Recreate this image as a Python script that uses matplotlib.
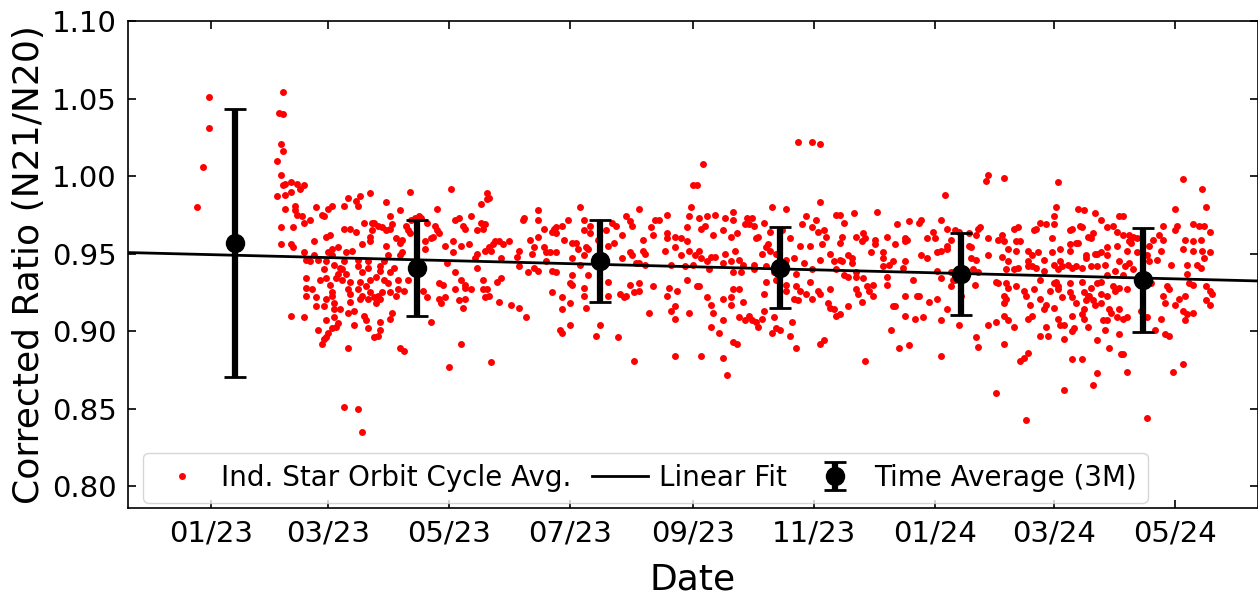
import numpy as np
import matplotlib
matplotlib.use('Agg')
import matplotlib.pyplot as plt
import matplotlib.dates as mdates

# day offsets are counted from 2023-01-01
start = np.datetime64('2023-01-01')

days_0 = [-7, -4, -1, -1]
vals_0 = [0.980, 1.006, 1.031, 1.051]

days_1 = [36, 34, 36, 35, 36, 33, 35, 36, 37, 33,
          37, 37, 35, 35, 40, 40, 43, 47, 45, 40,
          42, 42, 43, 46, 47, 50, 41, 40, 41, 47,
          48, 50, 48, 48, 48, 51, 53, 53, 47, 54,
          57, 56, 58, 59, 61, 63, 64, 62, 58, 57,
          58, 61, 62, 62, 65, 69, 72, 70, 69, 70,
          66, 64, 60, 58, 57, 58, 59, 61, 64, 61,
          62, 65, 67, 68, 71, 66, 68, 74, 74, 76,
          75, 74, 76, 79, 82, 84, 80, 83, 78, 80,
          79, 79, 76, 80, 80, 81, 84, 82, 86, 88,
          90, 91, 88, 89, 87, 85, 85, 83, 87, 89,
          90, 92, 95, 96, 95, 96, 93, 90, 95, 98,
          99, 100, 94, 94, 97, 99, 91, 90, 85, 85,
          84, 82, 79, 78, 77, 72, 69, 95, 97, 67,
          74, 76, 88, 80, 75, 73, 74, 69, 67, 61,
          59, 53, 56, 57, 58, 60, 52, 67, 70, 73,
          77, 81, 52, 54, 55, 63, 61, 70, 75, 85,
          86, 90, 93, 100, 101]
vals_1 = [1.054, 1.041, 1.040, 1.021, 1.016, 1.010, 1.001, 0.994, 0.995, 0.987,
          0.988, 0.979, 0.967, 0.956, 0.910, 0.996, 0.995, 0.994, 0.992, 0.990,
          0.981, 0.978, 0.975, 0.974, 0.970, 0.972, 0.967, 0.956, 0.954, 0.951,
          0.946, 0.945, 0.934, 0.928, 0.923, 0.927, 0.922, 0.916, 0.909, 0.901,
          0.895, 0.892, 0.896, 0.899, 0.902, 0.903, 0.905, 0.909, 0.907, 0.916,
          0.921, 0.923, 0.918, 0.914, 0.914, 0.912, 0.913, 0.919, 0.927, 0.932,
          0.933, 0.937, 0.930, 0.934, 0.940, 0.945, 0.951, 0.953, 0.954, 0.949,
          0.943, 0.941, 0.945, 0.951, 0.952, 0.940, 0.937, 0.946, 0.942, 0.938,
          0.932, 0.927, 0.923, 0.921, 0.922, 0.923, 0.925, 0.918, 0.929, 0.933,
          0.941, 0.945, 0.956, 0.958, 0.961, 0.965, 0.968, 0.970, 0.967, 0.965,
          0.966, 0.969, 0.955, 0.949, 0.945, 0.942, 0.939, 0.935, 0.933, 0.931,
          0.938, 0.941, 0.949, 0.951, 0.957, 0.959, 0.960, 0.974, 0.978, 0.968,
          0.965, 0.963, 0.933, 0.927, 0.926, 0.933, 0.912, 0.908, 0.906, 0.901,
          0.897, 0.896, 0.902, 0.907, 0.910, 0.904, 0.889, 0.889, 0.887, 0.851,
          0.850, 0.835, 0.983, 0.989, 0.987, 0.984, 0.981, 0.986, 0.981, 0.981,
          0.979, 0.980, 0.975, 0.974, 0.961, 0.962, 0.958, 0.966, 0.966, 0.964,
          0.970, 0.970, 0.949, 0.946, 0.933, 0.934, 0.925, 0.924, 0.921, 0.921,
          0.925, 0.925, 0.923, 0.990, 0.972]

days_2 = [121, 139, 140, 139, 136, 114, 103, 106, 109, 113,
          114, 115, 112, 108, 111, 108, 123, 125, 127, 128,
          131, 136, 138, 137, 134, 118, 122, 122, 126, 130,
          133, 134, 138, 140, 142, 143, 141, 145, 147, 150,
          146, 134, 123, 126, 128, 128, 131, 137, 146, 144,
          137, 139, 140, 138, 115, 117, 123, 125, 128, 127,
          115, 116, 118, 107, 109, 111, 145, 151, 155, 159,
          126, 120, 141, 157, 158, 165, 165, 168, 165, 161,
          163, 162, 168, 169, 171, 155, 154, 155, 160, 163,
          165, 169, 172, 173, 172, 172, 105, 119]
vals_2 = [0.992, 0.989, 0.986, 0.985, 0.982, 0.979, 0.973, 0.973, 0.970, 0.968,
          0.965, 0.963, 0.961, 0.958, 0.960, 0.953, 0.972, 0.973, 0.968, 0.966,
          0.974, 0.970, 0.969, 0.966, 0.965, 0.955, 0.958, 0.951, 0.955, 0.956,
          0.947, 0.950, 0.952, 0.954, 0.956, 0.958, 0.952, 0.958, 0.956, 0.958,
          0.947, 0.941, 0.938, 0.933, 0.930, 0.928, 0.927, 0.933, 0.934, 0.932,
          0.927, 0.927, 0.923, 0.922, 0.931, 0.930, 0.927, 0.920, 0.921, 0.915,
          0.921, 0.918, 0.922, 0.926, 0.922, 0.906, 0.919, 0.917, 0.915, 0.909,
          0.892, 0.877, 0.880, 0.972, 0.973, 0.978, 0.972, 0.966, 0.961, 0.959,
          0.954, 0.950, 0.954, 0.951, 0.951, 0.952, 0.948, 0.942, 0.938, 0.941,
          0.939, 0.945, 0.964, 0.966, 0.939, 0.925, 0.974, 0.944]

days_3 = [186, 180, 177, 174, 174, 178, 182, 184, 185, 189,
          190, 188, 188, 188, 191, 191, 195, 199, 202, 204,
          203, 200, 207, 209, 211, 212, 216, 218, 218, 219,
          211, 212, 207, 214, 216, 219, 174, 182, 186, 174,
          182, 190, 181, 182, 188, 188, 177, 181, 177, 189,
          176, 177, 181, 196, 194, 205, 200, 200, 206, 208,
          209, 213, 211, 216, 216, 223, 221, 213, 234, 222,
          224, 226, 230, 223, 230, 230, 234, 237, 240, 240,
          241, 242, 243, 229, 234, 237, 241, 244, 232, 239,
          240, 231, 235, 230, 234, 232, 234, 241, 245, 243]
vals_3 = [0.980, 0.972, 0.968, 0.967, 0.963, 0.959, 0.957, 0.957, 0.953, 0.954,
          0.953, 0.949, 0.972, 0.965, 0.968, 0.963, 0.959, 0.965, 0.970, 0.968,
          0.957, 0.955, 0.962, 0.974, 0.971, 0.968, 0.979, 0.959, 0.952, 0.950,
          0.951, 0.949, 0.947, 0.944, 0.944, 0.943, 0.951, 0.947, 0.943, 0.938,
          0.936, 0.936, 0.931, 0.930, 0.928, 0.923, 0.922, 0.918, 0.914, 0.915,
          0.901, 0.899, 0.904, 0.904, 0.897, 0.896, 0.932, 0.923, 0.924, 0.922,
          0.923, 0.925, 0.930, 0.931, 0.926, 0.929, 0.912, 0.881, 0.884, 0.967,
          0.972, 0.972, 0.975, 0.962, 0.963, 0.960, 0.961, 0.960, 0.958, 0.967,
          0.974, 0.980, 0.994, 0.952, 0.954, 0.949, 0.952, 0.949, 0.943, 0.942,
          0.933, 0.928, 0.926, 0.923, 0.916, 0.913, 0.908, 0.912, 0.929, 0.943]

days_4 = [248, 245, 296, 303, 307, 283, 290, 307, 315, 246,
          250, 254, 259, 263, 263, 270, 273, 271, 269, 274,
          279, 249, 247, 253, 258, 262, 265, 275, 276, 282,
          288, 292, 298, 300, 305, 303, 306, 309, 310, 308,
          302, 297, 281, 280, 278, 282, 285, 246, 247, 252,
          254, 250, 251, 259, 258, 262, 264, 266, 268, 263,
          267, 274, 280, 274, 290, 294, 299, 303, 307, 312,
          314, 315, 246, 250, 252, 253, 258, 262, 263, 266,
          262, 268, 279, 280, 285, 290, 295, 297, 294, 296,
          300, 302, 303, 306, 307, 312, 311, 312, 314, 315,
          252, 256, 258, 266, 269, 271, 273, 275, 276, 278,
          279, 284, 285, 287, 283, 293, 292, 295, 307, 309,
          263, 265, 247, 258, 260, 290, 284, 295]
vals_4 = [1.008, 0.994, 1.022, 1.022, 1.021, 0.980, 0.979, 0.983, 0.975, 0.973,
          0.974, 0.975, 0.973, 0.977, 0.972, 0.973, 0.973, 0.969, 0.969, 0.968,
          0.970, 0.968, 0.966, 0.962, 0.965, 0.961, 0.963, 0.960, 0.961, 0.964,
          0.965, 0.960, 0.969, 0.974, 0.972, 0.967, 0.964, 0.965, 0.961, 0.956,
          0.955, 0.955, 0.956, 0.954, 0.950, 0.952, 0.950, 0.952, 0.947, 0.948,
          0.948, 0.945, 0.940, 0.950, 0.944, 0.945, 0.952, 0.946, 0.943, 0.938,
          0.938, 0.940, 0.942, 0.943, 0.946, 0.947, 0.944, 0.940, 0.946, 0.950,
          0.945, 0.940, 0.929, 0.922, 0.917, 0.912, 0.921, 0.922, 0.927, 0.927,
          0.917, 0.919, 0.924, 0.932, 0.933, 0.930, 0.929, 0.926, 0.921, 0.920,
          0.924, 0.932, 0.921, 0.926, 0.924, 0.927, 0.918, 0.915, 0.914, 0.910,
          0.903, 0.899, 0.907, 0.909, 0.907, 0.910, 0.907, 0.906, 0.903, 0.908,
          0.913, 0.909, 0.902, 0.901, 0.899, 0.906, 0.897, 0.889, 0.892, 0.894,
          0.893, 0.892, 0.884, 0.883, 0.872, 0.926, 0.938, 0.937]

days_5 = [317, 319, 324, 336, 318, 317, 325, 329, 330, 328,
          335, 335, 341, 345, 346, 352, 358, 357, 350, 351,
          350, 361, 364, 365, 368, 370, 371, 375, 377, 373,
          371, 371, 368, 366, 382, 386, 387, 382, 383, 383,
          386, 317, 318, 321, 323, 323, 333, 339, 339, 339,
          342, 344, 350, 349, 358, 361, 319, 321, 325, 325,
          329, 341, 341, 354, 366, 368, 373, 374, 373, 375,
          384, 387, 385, 325, 326, 328, 331, 334, 334, 332,
          350, 357, 356, 362, 366, 344, 345, 350, 355, 359,
          368, 371, 377, 378, 317, 321, 343, 347, 352, 330,
          368, 386, 387]
vals_5 = [0.975, 0.970, 0.976, 0.977, 0.961, 0.957, 0.961, 0.963, 0.960, 0.958,
          0.959, 0.956, 0.961, 0.956, 0.969, 0.971, 0.972, 0.970, 0.960, 0.959,
          0.958, 0.960, 0.964, 0.960, 0.972, 0.988, 0.966, 0.965, 0.964, 0.959,
          0.955, 0.953, 0.952, 0.951, 0.963, 0.962, 0.966, 0.955, 0.954, 0.947,
          0.946, 0.946, 0.945, 0.949, 0.947, 0.944, 0.951, 0.951, 0.947, 0.942,
          0.943, 0.945, 0.945, 0.941, 0.949, 0.947, 0.936, 0.935, 0.935, 0.938,
          0.934, 0.935, 0.930, 0.933, 0.939, 0.934, 0.938, 0.933, 0.929, 0.933,
          0.940, 0.938, 0.930, 0.927, 0.924, 0.919, 0.929, 0.930, 0.923, 0.926,
          0.923, 0.923, 0.923, 0.919, 0.921, 0.916, 0.916, 0.910, 0.908, 0.909,
          0.907, 0.914, 0.904, 0.923, 0.911, 0.916, 0.901, 0.889, 0.891, 0.881,
          0.884, 0.896, 0.890]

days_6 = [391, 392, 400, 427, 388, 392, 397, 399, 400, 405,
          407, 406, 408, 406, 402, 392, 399, 402, 412, 414,
          417, 415, 416, 418, 421, 425, 425, 426, 424, 424,
          428, 433, 434, 438, 439, 437, 440, 446, 449, 452,
          455, 457, 458, 457, 458, 452, 446, 447, 449, 452,
          442, 445, 444, 441, 441, 437, 433, 433, 436, 428,
          425, 427, 429, 432, 434, 436, 439, 444, 447, 451,
          456, 452, 412, 412, 414, 416, 420, 420, 405, 407,
          401, 396, 397, 401, 406, 402, 410, 411, 415, 418,
          418, 421, 425, 423, 425, 426, 427, 429, 427, 433,
          433, 434, 436, 439, 440, 441, 442, 440, 444, 443,
          445, 447, 449, 449, 446, 449, 452, 453, 454, 455,
          456, 458, 458, 400, 401, 400, 413, 412, 414, 420,
          427, 428, 430, 434, 435, 434, 440, 442, 439, 450,
          452, 451, 457, 458, 392, 396, 400, 402, 405, 421,
          418, 422, 430, 447, 453, 459, 400, 412, 410, 408,
          434, 439, 447, 445, 396, 430, 411]
vals_6 = [0.997, 1.001, 0.999, 0.996, 0.967, 0.960, 0.959, 0.962, 0.958, 0.966,
          0.967, 0.958, 0.958, 0.952, 0.953, 0.949, 0.948, 0.945, 0.952, 0.949,
          0.951, 0.965, 0.966, 0.970, 0.969, 0.969, 0.974, 0.980, 0.960, 0.951,
          0.953, 0.965, 0.966, 0.968, 0.967, 0.979, 0.978, 0.976, 0.972, 0.967,
          0.968, 0.964, 0.974, 0.955, 0.945, 0.954, 0.950, 0.950, 0.951, 0.949,
          0.961, 0.963, 0.960, 0.949, 0.947, 0.957, 0.956, 0.952, 0.957, 0.945,
          0.943, 0.940, 0.942, 0.943, 0.941, 0.942, 0.941, 0.942, 0.942, 0.943,
          0.939, 0.936, 0.945, 0.942, 0.942, 0.941, 0.946, 0.939, 0.940, 0.941,
          0.940, 0.932, 0.931, 0.931, 0.929, 0.928, 0.926, 0.923, 0.927, 0.933,
          0.921, 0.917, 0.915, 0.926, 0.931, 0.932, 0.929, 0.922, 0.927, 0.931,
          0.925, 0.922, 0.918, 0.932, 0.925, 0.920, 0.923, 0.914, 0.928, 0.923,
          0.920, 0.931, 0.932, 0.924, 0.917, 0.918, 0.923, 0.914, 0.912, 0.929,
          0.926, 0.928, 0.914, 0.923, 0.921, 0.918, 0.917, 0.908, 0.910, 0.914,
          0.908, 0.904, 0.904, 0.910, 0.902, 0.900, 0.908, 0.903, 0.911, 0.907,
          0.907, 0.901, 0.909, 0.898, 0.904, 0.906, 0.910, 0.907, 0.903, 0.903,
          0.897, 0.897, 0.895, 0.894, 0.889, 0.885, 0.892, 0.886, 0.883, 0.881,
          0.882, 0.882, 0.873, 0.865, 0.860, 0.862, 0.843]

days_7 = [490, 500, 486, 502, 460, 480, 487, 486, 495, 498,
          501, 504, 460, 463, 465, 467, 464, 463, 478, 480,
          475, 473, 491, 495, 490, 495, 499, 500, 504, 501,
          479, 462, 467, 472, 473, 477, 463, 465, 484, 492,
          497, 499, 492, 493, 495, 502, 504, 505, 502, 504,
          482, 483, 480, 481, 486, 488, 491, 490, 492, 495,
          491, 462, 462, 460, 469, 472, 479, 476, 481, 483,
          460, 462, 485, 490, 472, 461, 460, 474]
vals_7 = [0.998, 0.992, 0.979, 0.980, 0.974, 0.968, 0.968, 0.965, 0.969, 0.968,
          0.968, 0.964, 0.962, 0.962, 0.961, 0.960, 0.957, 0.958, 0.962, 0.959,
          0.959, 0.955, 0.959, 0.958, 0.953, 0.952, 0.959, 0.952, 0.951, 0.947,
          0.952, 0.952, 0.951, 0.949, 0.945, 0.946, 0.944, 0.940, 0.943, 0.943,
          0.943, 0.941, 0.937, 0.931, 0.930, 0.929, 0.926, 0.924, 0.920, 0.917,
          0.929, 0.927, 0.923, 0.918, 0.917, 0.921, 0.923, 0.913, 0.911, 0.912,
          0.907, 0.927, 0.909, 0.908, 0.913, 0.909, 0.908, 0.901, 0.898, 0.897,
          0.885, 0.874, 0.874, 0.879, 0.844, 0.942, 0.936, 0.931]

# 3-month time averages
avg_days = [12, 104, 196, 287, 378, 470]
avg_vals = [0.957, 0.941, 0.945, 0.941, 0.937, 0.933]
avg_err = [0.0865, 0.031, 0.0265, 0.026, 0.0265, 0.0335]

# linear fit end points
fit_days = [-42, 528]
fit_vals = [0.9507, 0.9324]

all_days = np.array(days_0 + days_1 + days_2 + days_3 + days_4 + days_5 + days_6 + days_7)
all_vals = np.array(vals_0 + vals_1 + vals_2 + vals_3 + vals_4 + vals_5 + vals_6 + vals_7)

def to_dates(d):
    return start + np.array(d).astype('timedelta64[D]')

fig = plt.figure(figsize=(12.58, 5.96), dpi=100)
ax = fig.add_axes([128 / 1258, 88 / 596, 1130 / 1258, 487 / 596])

ax.plot(to_dates(all_days), all_vals, 'o', color='red', ms=5, mec='none',
        label='Ind. Star Orbit Cycle Avg.', zorder=2)
ax.plot(to_dates(fit_days), fit_vals, '-', color='black', lw=2, label='Linear Fit', zorder=3)
ax.errorbar(to_dates(avg_days), avg_vals, yerr=avg_err, fmt='o', color='black', ms=13,
            elinewidth=4.5, capsize=8, capthick=2, label='Time Average (3M)', zorder=4)

ax.set_xlim(to_dates([-42])[0], to_dates([528])[0])
ax.set_ylim(0.786, 1.10)
ax.set_yticks(np.arange(0.80, 1.101, 0.05))
ax.yaxis.set_major_formatter(plt.FormatStrFormatter('%.2f'))
ax.xaxis.set_major_locator(mdates.MonthLocator(bymonth=[1, 3, 5, 7, 9, 11]))
ax.xaxis.set_major_formatter(mdates.DateFormatter('%m/%y'))

ax.tick_params(direction='in', top=True, right=True, labelsize=21, length=6, width=1.2, pad=8)
for s in ax.spines.values():
    s.set_linewidth(1.2)

ax.set_xlabel('Date', fontsize=26, labelpad=11)
ax.set_ylabel('Corrected Ratio (N21/N20)', fontsize=26)

ax.legend(loc='lower left', bbox_to_anchor=(0.0133, 0.0103), borderaxespad=0,
          ncol=3, fontsize=20, handletextpad=0.4, columnspacing=0.75)

fig.savefig('out.png', dpi=100)
